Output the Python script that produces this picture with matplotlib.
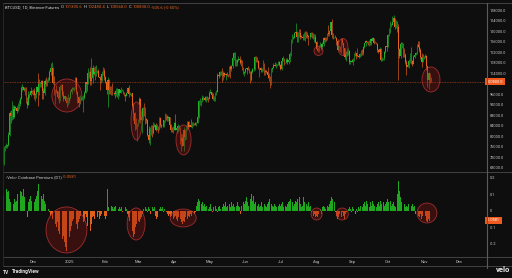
import matplotlib
matplotlib.use("Agg")
import matplotlib.pyplot as plt
import matplotlib.dates as mdates
from matplotlib.patches import Ellipse
from matplotlib.lines import Line2D
import numpy as np
import pandas as pd

plt.rcParams['font.family'] = ['Roboto', 'DejaVu Sans']

BG = '#0e0e0e'
GREEN = '#22b02a'
ORANGE = '#e8631e'
TXT = '#c9c9c9'
LINE = '#4a4a4a'

# BTCUSD daily candles, Binance futures, thousands of USD
start_date = '2024-11-06'
first_open = 69.4
close = [
    # Nov 2024 (from 6th)
    75.6, 75.9, 76.5, 76.7, 80.4, 88.7, 87.9, 90.5, 87.3, 91.1, 90.6, 89.8, 90.5,
    92.3, 94.3, 98.4, 98.9, 97.7, 98.0, 93.0, 91.9, 95.9, 95.6, 97.4, 96.4,
    # Dec 2024
    97.2, 95.8, 96.0, 98.8, 97.0, 99.9, 99.9, 101.2, 97.4, 96.6, 101.2, 100.0, 101.4,
    101.4, 104.3, 106.0, 106.1, 100.2, 97.5, 97.8, 97.2, 95.1, 94.7, 98.7, 99.4, 95.8,
    94.2, 95.2, 93.5, 92.6, 93.4,
    # Jan 2025
    94.4, 96.9, 98.1, 98.2, 98.3, 102.1, 96.9, 95.0, 92.5, 94.7, 94.5, 94.5, 94.5,
    96.5, 100.5, 99.9, 104.1, 104.4, 101.1, 102.0, 106.1, 103.6, 104.4, 104.7, 104.7,
    102.6, 102.0, 101.3, 103.7, 104.7, 102.4,
    # Feb 2025
    100.6, 97.7, 101.4, 97.8, 96.6, 96.6, 96.5, 96.5, 96.1, 97.4, 95.7, 97.9, 96.6,
    97.5, 97.6, 96.1, 95.8, 95.5, 96.6, 98.3, 96.1, 96.6, 96.3, 91.5, 88.7, 84.7,
    84.4, 84.4,
    # Mar 2025
    86.0, 94.3, 86.1, 87.2, 90.6, 89.9, 86.7, 86.2, 80.7, 78.5, 82.9, 83.7, 81.1,
    83.9, 84.3, 82.6, 84.1, 82.7, 86.8, 84.2, 84.0, 83.8, 86.1, 87.5, 87.4, 86.9,
    87.2, 84.4, 82.6, 82.3, 82.5,
    # Apr 2025
    85.2, 82.5, 83.1, 83.8, 83.5, 78.2, 79.2, 76.3, 82.6, 79.6, 83.4, 85.3, 83.7,
    84.5, 83.7, 84.0, 84.9, 84.5, 85.1, 85.1, 87.5, 93.4, 93.7, 93.9, 94.7, 94.6,
    93.7, 95.0, 94.3, 94.2,
    # May 2025
    96.5, 96.9, 95.9, 94.3, 94.7, 96.8, 97.0, 103.2, 102.9, 104.6, 104.1, 102.8, 104.1,
    103.5, 103.7, 103.5, 103.1, 106.4, 105.6, 106.8, 109.6, 111.7, 107.3, 107.8, 109.0,
    109.4, 108.9, 107.8, 105.6, 103.9, 104.6,
    # Jun 2025
    105.7, 105.8, 105.4, 104.7, 101.5, 104.3, 105.6, 105.7, 110.3, 110.2, 108.7, 105.9,
    106.1, 105.4, 105.6, 106.8, 104.6, 104.9, 104.6, 103.3, 102.2, 100.9, 105.5, 106.0,
    107.3, 106.9, 107.1, 107.3, 108.4, 107.1,
    # Jul 2025
    105.7, 108.8, 109.6, 108.0, 108.2, 109.2, 108.2, 108.9, 111.3, 115.9, 117.5, 117.4,
    119.1, 119.8, 117.7, 118.7, 119.3, 117.9, 117.9, 117.3, 117.4, 119.9, 118.6, 118.3,
    117.6, 117.9, 119.4, 118.0, 117.8, 117.8, 115.7,
    # Aug 2025
    113.3, 112.5, 114.2, 115.0, 114.1, 115.0, 117.5, 116.7, 116.5, 119.3, 118.7, 120.2,
    123.3, 118.4, 117.4, 117.5, 117.4, 116.3, 112.9, 114.3, 112.5, 116.9, 115.4, 113.5,
    110.1, 111.8, 111.3, 112.6, 108.4, 108.8, 108.2,
    # Sep 2025
    109.2, 111.2, 111.7, 110.7, 110.7, 110.2, 111.1, 112.1, 111.5, 113.9, 115.5, 116.1,
    115.9, 115.3, 115.3, 116.8, 116.4, 117.2, 115.6, 115.7, 115.2, 112.7, 112.0, 113.3,
    109.0, 109.6, 109.6, 112.1, 114.3, 114.0,
    # Oct 2025
    118.6, 120.5, 122.2, 122.4, 123.5, 124.8, 121.4, 123.3, 121.7, 113.2, 110.6, 115.2,
    115.3, 113.0, 110.8, 108.2, 106.5, 107.2, 108.6, 110.6, 108.5, 107.6, 110.1, 111.0,
    111.6, 114.6, 114.1, 112.9, 110.0, 108.3, 109.6,
    # Nov 2025
    110.1, 110.6, 106.6, 101.5, 103.9, 101.3056, 100.8,
]
high = [
    76.4, 76.9, 77.3, 76.9, 81.5, 89.6, 89.9, 93.4, 91.8, 91.8, 91.4, 91.6, 92.6,
    94.0, 94.9, 99.0, 99.8, 98.8, 98.6, 98.9, 94.8, 97.3, 96.6, 98.7, 97.5,
    97.9, 98.2, 96.3, 99.0, 104.0, 101.9, 100.5, 101.4, 101.3, 98.3, 101.9, 102.5, 101.9,
    102.6, 105.2, 107.8, 108.3, 106.5, 102.8, 98.1, 99.5, 97.4, 96.4, 99.4, 99.9, 99.9,
    97.3, 95.5, 95.2, 94.9, 96.1,
    94.9, 97.8, 98.9, 98.7, 98.8, 102.5, 102.7, 97.3, 95.3, 95.8, 95.0, 95.3, 95.8,
    97.3, 100.7, 100.8, 105.9, 104.9, 106.3, 109.6, 107.2, 106.3, 106.8, 107.0, 105.3,
    105.5, 103.1, 103.7, 104.8, 106.4, 106.0,
    102.8, 101.5, 102.5, 101.7, 99.0, 99.2, 100.1, 96.9, 97.3, 98.3, 98.5, 98.1, 98.0,
    98.8, 97.9, 97.7, 97.0, 96.0, 96.9, 98.7, 99.5, 96.9, 96.5, 96.5, 92.5, 89.3,
    87.0, 85.1,
    86.6, 95.0, 94.4, 88.9, 91.0, 92.8, 91.3, 86.8, 86.5, 83.9, 83.6, 84.4, 84.3,
    85.3, 84.9, 85.0, 84.7, 84.0, 87.4, 87.4, 84.8, 84.5, 86.1, 88.8, 88.5, 88.3,
    87.8, 87.5, 84.6, 83.5, 83.9,
    85.6, 88.5, 83.9, 84.7, 84.2, 83.7, 81.2, 80.8, 83.6, 82.7, 84.2, 85.9, 86.0,
    85.8, 86.5, 85.5, 85.4, 85.1, 85.6, 85.3, 88.5, 93.8, 94.7, 94.0, 95.7, 95.3,
    95.2, 95.5, 95.4, 95.1,
    97.4, 97.9, 96.9, 96.3, 95.2, 96.9, 97.7, 103.9, 104.3, 104.9, 104.9, 105.8, 104.9,
    104.6, 104.1, 104.5, 103.7, 106.6, 107.1, 107.3, 110.7, 111.9, 111.9, 109.5, 109.3,
    110.4, 110.7, 109.3, 108.9, 106.3, 104.9,
    105.9, 105.9, 106.8, 106.0, 105.0, 105.4, 105.9, 106.1, 110.5, 110.4, 110.3, 108.9,
    106.2, 106.2, 106.0, 108.9, 107.8, 105.6, 105.2, 106.5, 104.0, 103.1, 106.0, 106.3,
    108.0, 108.2, 107.7, 107.6, 108.5, 108.8,
    107.5, 109.7, 110.5, 109.7, 108.4, 109.7, 109.7, 109.2, 111.9, 116.8, 118.9, 118.0,
    119.5, 123.2, 119.9, 119.8, 120.9, 120.9, 118.6, 118.9, 119.6, 120.2, 120.1, 119.5,
    118.5, 118.3, 119.8, 119.8, 119.3, 118.8, 118.9,
    116.1, 114.0, 114.7, 115.7, 115.1, 115.7, 117.6, 117.7, 117.9, 119.3, 122.3, 120.3,
    123.6, 124.4, 119.2, 117.6, 118.6, 117.6, 116.8, 114.6, 114.3, 117.4, 117.0, 115.6,
    113.6, 112.4, 112.6, 113.5, 112.7, 108.9, 109.5,
    109.9, 111.8, 112.6, 111.8, 113.4, 111.2, 111.6, 112.9, 113.2, 114.3, 115.6, 116.6,
    116.3, 116.1, 116.7, 116.9, 117.3, 117.9, 117.4, 116.1, 115.8, 115.4, 113.3, 114.0,
    113.5, 110.3, 109.8, 112.4, 114.5, 114.8,
    118.7, 121.0, 123.9, 122.9, 125.7, 126.2, 125.1, 124.2, 123.8, 122.5, 113.4, 115.8,
    116.0, 115.5, 113.6, 111.8, 109.0, 107.6, 109.4, 111.7, 114.0, 109.1, 111.0, 111.8,
    111.9, 115.0, 116.4, 116.1, 113.6, 111.6, 111.2,
    110.6, 111.2, 110.8, 106.6, 104.5, 104.2, 102.4804,
]
low = [
    69.0, 74.4, 75.5, 75.7, 76.4, 80.2, 85.1, 86.2, 86.6, 87.1, 90.1, 88.9, 89.5,
    90.4, 91.6, 94.1, 97.1, 97.2, 95.8, 92.6, 90.8, 91.8, 94.7, 95.3, 96.2,
    95.7, 94.2, 93.6, 94.7, 91.5, 95.9, 98.9, 98.7, 94.2, 94.2, 95.7, 99.3, 99.2,
    100.6, 101.2, 103.3, 105.3, 100.0, 95.6, 92.2, 96.4, 94.2, 92.5, 93.4, 97.6, 95.2,
    93.5, 94.0, 93.0, 91.3, 92.0,
    92.8, 94.2, 96.0, 97.5, 97.3, 97.9, 96.1, 92.5, 91.2, 92.2, 93.8, 93.7, 89.2,
    94.3, 96.5, 97.3, 99.9, 102.3, 99.5, 99.6, 100.1, 103.3, 101.3, 102.8, 104.1,
    102.5, 97.8, 100.3, 101.2, 103.3, 101.6,
    100.3, 96.2, 91.2, 96.2, 96.2, 95.7, 95.6, 95.7, 94.7, 95.3, 94.9, 94.1, 95.2,
    96.3, 97.1, 96.0, 95.2, 93.4, 95.4, 96.4, 94.8, 95.8, 95.2, 91.2, 86.1, 82.3,
    82.8, 78.2,
    83.9, 85.0, 85.1, 81.4, 86.3, 87.8, 84.7, 85.2, 80.1, 77.5, 76.6, 80.6, 79.9,
    80.8, 83.6, 82.0, 82.5, 81.2, 82.5, 83.6, 83.2, 83.6, 83.7, 85.5, 86.3, 85.9,
    85.8, 83.6, 81.6, 81.6, 81.3,
    82.4, 82.3, 81.2, 81.6, 82.4, 77.2, 74.5, 76.2, 74.6, 78.5, 78.9, 82.3, 82.9,
    83.7, 83.6, 83.1, 83.8, 84.3, 84.4, 83.9, 85.1, 87.1, 91.9, 91.7, 92.9, 93.9,
    93.6, 92.9, 93.8, 92.9,
    94.1, 96.3, 95.7, 93.8, 93.5, 93.4, 95.8, 96.9, 102.3, 102.8, 103.3, 100.7, 101.5,
    102.6, 101.4, 103.1, 102.6, 102.9, 102.0, 104.9, 106.1, 109.2, 106.8, 106.9, 106.6,
    108.8, 107.6, 106.8, 105.4, 103.6, 103.1,
    103.9, 103.7, 105.1, 104.2, 100.4, 101.1, 103.9, 105.0, 105.3, 108.4, 108.1, 105.7,
    102.7, 104.3, 104.5, 105.0, 103.5, 103.5, 104.1, 102.3, 100.9, 98.2, 99.6, 104.6,
    105.8, 106.6, 106.1, 106.9, 107.2, 106.8,
    105.3, 105.2, 108.5, 107.3, 107.8, 107.8, 107.5, 107.5, 108.4, 110.6, 115.3, 116.9,
    117.3, 118.9, 115.7, 115.9, 117.8, 116.8, 117.2, 116.5, 116.5, 116.1, 117.3, 117.5,
    114.8, 117.1, 117.9, 117.4, 116.9, 115.8, 115.5,
    112.7, 112.0, 112.2, 114.0, 112.7, 113.3, 114.3, 115.9, 116.3, 116.5, 118.1, 118.2,
    118.9, 117.2, 116.8, 117.2, 117.3, 114.7, 112.7, 112.4, 112.0, 111.7, 114.7, 110.8,
    109.3, 108.8, 110.4, 110.9, 107.4, 107.5, 108.1,
    107.3, 108.6, 110.7, 109.3, 110.0, 109.9, 110.1, 110.6, 110.9, 110.9, 113.4, 114.3,
    115.3, 114.8, 114.4, 114.8, 114.7, 116.3, 115.2, 115.4, 115.1, 111.9, 111.5, 111.1,
    108.6, 108.6, 109.1, 109.2, 111.6, 112.6,
    113.9, 118.2, 119.2, 121.6, 122.2, 123.1, 120.6, 121.1, 119.6, 101.5, 109.6, 109.9,
    113.5, 110.0, 110.2, 107.5, 103.5, 106.3, 106.1, 107.9, 107.4, 106.7, 107.4, 109.6,
    110.9, 111.3, 113.8, 112.2, 109.4, 106.3, 108.7,
    109.4, 109.6, 105.3, 98.9, 98.0, 100.3, 100.568,
]

# Velo Coinbase premium, daily
premium = [
    # Nov 2024
    0.09, 0.12, 0.13, 0.11, 0.12, 0.07, 0.05, 0.06, 0.04, 0.07, 0.05, 0.06, 0.10,
    0.13, 0.12, 0.11, 0.09, 0.13, 0.08, -0.03, -0.04, 0.05, 0.07, 0.09, 0.06,
    # Dec 2024
    0.08, 0.05, 0.07, 0.09, 0.12, 0.16, 0.11, 0.09, 0.07, 0.10, 0.06, 0.04, 0.02, 0.01,
    -0.01, -0.03, -0.02, -0.05, -0.04, -0.08, -0.10, -0.07, -0.12, -0.14, -0.11, -0.17,
    -0.15, -0.19, -0.22, -0.24, -0.20,
    # Jan 2025
    -0.16, -0.12, -0.09, -0.06, -0.05, -0.03, -0.08, -0.11, -0.07, -0.05, -0.03, -0.04,
    -0.07, -0.06, -0.02, -0.04, -0.09, -0.15, -0.12, -0.08, -0.04, -0.03, -0.05, -0.02,
    -0.04, -0.01, -0.05, -0.03, -0.02, -0.04, -0.03,
    # Feb 2025
    -0.05, -0.03, 0.13, 0.02, 0.01, 0.03, 0.02, 0.01, 0.02, 0.03, -0.01, 0.01, 0.02,
    0.01, 0.02, -0.01, 0.01, 0.02, 0.01, -0.02, -0.04, -0.06, -0.08, -0.12, -0.16,
    -0.14, -0.10, -0.08,
    # Mar 2025
    -0.06, -0.07, -0.05, -0.04, -0.02, 0.01, 0.02, 0.01, -0.01, 0.02, 0.01, -0.02, 0.02,
    0.01, 0.02, -0.03, -0.05, -0.04, 0.01, 0.02, 0.01, 0.02, -0.01, 0.01, -0.01, -0.02,
    -0.03, -0.02, -0.04, -0.03, -0.05,
    # Apr 2025
    -0.04, -0.03, -0.05, -0.06, -0.04, -0.05, -0.07, -0.08, -0.06, -0.07, -0.04, -0.05,
    -0.03, -0.04, -0.02, -0.03, -0.01, -0.02, -0.01, 0.03, 0.05, 0.07, 0.06, 0.04,
    0.05, 0.03, 0.04, 0.02, 0.03, 0.01,
    # May 2025
    0.02, 0.04, 0.01, -0.01, 0.02, 0.03, 0.01, -0.01, 0.02, 0.03, 0.01, 0.02, 0.04,
    0.03, 0.05, 0.02, 0.03, 0.04, 0.02, 0.05, 0.03, 0.04, 0.02, 0.03, 0.05, 0.03,
    0.02, -0.02, 0.03, 0.05, 0.04,
    # Jun 2025
    0.06, 0.08, 0.05, 0.03, 0.07, 0.10, 0.06, 0.09, 0.04, 0.05, 0.03, 0.04, 0.02,
    0.03, 0.05, 0.02, 0.04, 0.03, 0.02, 0.04, 0.05, 0.07, 0.04, 0.03, 0.02, 0.04,
    0.03, 0.02, 0.03, 0.04,
    # Jul 2025
    0.03, 0.04, 0.05, 0.02, 0.03, 0.02, 0.04, 0.05, 0.06, 0.07, 0.05, 0.03, 0.04,
    0.06, 0.05, 0.07, 0.08, 0.04, 0.02, 0.03, 0.08, 0.05, 0.04, 0.03, 0.05, 0.02,
    0.03, -0.01, -0.03, -0.02, -0.04,
    # Aug 2025
    -0.03, -0.04, -0.02, 0.01, -0.02, 0.02, 0.03, 0.02, 0.01, 0.03, 0.02, 0.04, 0.06,
    0.08, 0.07, 0.05, -0.01, -0.03, -0.05, -0.04, -0.02, -0.04, -0.01, -0.03, -0.05,
    -0.02, -0.01, 0.01, 0.02, 0.01, -0.01,
    # Sep 2025
    0.02, 0.01, -0.02, 0.01, -0.01, 0.02, 0.01, 0.03, 0.02, 0.04, 0.05, 0.03, 0.06,
    0.04, 0.02, 0.05, 0.03, 0.06, 0.04, 0.03, 0.02, 0.04, 0.05, 0.03, 0.06, 0.04,
    0.05, 0.03, 0.04, 0.05,
    # Oct 2025
    0.07, 0.05, 0.06, 0.03, 0.04, 0.05, 0.03, 0.02, 0.10, 0.18, 0.12, 0.08, 0.05,
    0.03, 0.04, 0.02, 0.03, 0.02, 0.04, 0.06, 0.03, 0.04, 0.02, 0.03, -0.02, -0.01,
    -0.03, -0.04, -0.02, -0.05, -0.03,
    # Nov 2025
    -0.04, -0.03, -0.06, -0.07, -0.05, -0.06, -0.0581,
]

# highlighted zones: (center date, center value, width days, height)
price_marks = [
    ('2024-12-30', 95530, 25.7, 12530),
    ('2025-02-27 16:00', 85840, 9.4, 14430),
    ('2025-04-09', 78630, 12.9, 11390),
    ('2025-08-02 14:00', 112430, 7.7, 3420),
    ('2025-08-23 14:00', 113950, 8.6, 6460),
    ('2025-11-07', 101600, 15.4, 9490),
]
premium_marks = [
    ('2024-12-29 16:00', -0.116, 35.0, 0.277),
    ('2025-02-27 08:00', -0.080, 15.4, 0.193),
    ('2025-04-08 16:00', -0.044, 22.3, 0.108),
    ('2025-08-01', -0.020, 9.4, 0.072),
    ('2025-08-23', -0.020, 10.3, 0.072),
    ('2025-11-03 14:00', -0.014, 17.0, 0.120),
]

price_ticks = [68000, 72000, 76000, 80000, 84000, 88000, 92000, 96000,
               104000, 108000, 112000, 116000, 120000, 124000, 128000]
premium_ticks = [0.2, 0.1, 0.0, -0.1, -0.2]
premium_tick_labels = ['0.2', '0.1', '0', '-0.1', '-0.2']
month_ticks = ['2024-12-01', '2025-01-01', '2025-02-01', '2025-03-01', '2025-04-01',
               '2025-05-01', '2025-06-01', '2025-07-01', '2025-08-01', '2025-09-01',
               '2025-10-01', '2025-11-01', '2025-12-01']
month_labels = ['Dec', '2025', 'Feb', 'Mar', 'Apr', 'May', 'Jun', 'Jul', 'Aug',
                'Sep', 'Oct', 'Nov', 'Dec']

# build OHLC
c = np.array(close) * 1000
o = np.concatenate([[first_open * 1000], c[:-1]])
h = np.maximum(np.array(high) * 1000, np.maximum(o, c))
l = np.minimum(np.array(low) * 1000, np.minimum(o, c))
dates = pd.date_range(start_date, periods=len(c), freq='D')
xd = mdates.date2num(dates.to_pydatetime())
up = c >= o
cols = np.where(up, GREEN, ORANGE)
prem = np.array(premium)
pcols = np.where(prem >= 0, '#1fa81f', '#e2601a')

W, H = 512, 278
fig = plt.figure(figsize=(W / 100, H / 100), dpi=100, facecolor=BG)
ax1 = fig.add_axes([3 / W, 1 - 172 / H, 484 / W, 169 / H], facecolor=BG)
ax2 = fig.add_axes([3 / W, 1 - 257 / H, 484 / W, 85 / H], facecolor=BG, sharex=ax1)

# candles
ax1.vlines(xd, l, h, colors=cols, linewidth=0.45, zorder=2)
ax1.bar(xd, np.maximum(np.abs(c - o), 60), bottom=np.minimum(o, c), width=0.62,
        color=cols, linewidth=0, zorder=3)
ax1.axhline(c[-1], color='#b5471c', linewidth=0.5, linestyle=(0, (1.2, 1.2)), zorder=1)

# premium histogram
ax2.bar(xd, prem, width=0.8, color=pcols, linewidth=0, zorder=2)

def mark(ax, spec):
    for d, v, w, hh in spec:
        ax.add_patch(Ellipse((mdates.date2num(pd.Timestamp(d)), v), w, hh,
                             facecolor=(0.55, 0.08, 0.08, 0.35),
                             edgecolor=(0.78, 0.22, 0.22, 0.75),
                             linewidth=0.6, zorder=4))

mark(ax1, price_marks)
mark(ax2, premium_marks)

x0 = mdates.date2num(pd.Timestamp('2024-12-01')) - 25.7
x1 = mdates.date2num(pd.Timestamp('2025-12-01')) + 24.0
ax1.set_xlim(x0, x1)
ax1.set_ylim(66470, 130660)
ax2.set_ylim(-0.279, 0.233)

for ax in (ax1, ax2):
    for s in ax.spines.values():
        s.set_visible(False)
    ax.yaxis.tick_right()
    ax.tick_params(axis='y', length=0, pad=1.8, labelsize=2.8, colors=TXT)

ax1.set_yticks(price_ticks)
ax1.set_yticklabels([f'{v:.1f}' for v in price_ticks])
ax1.tick_params(axis='x', length=0, labelbottom=False)
ax2.set_yticks(premium_ticks)
ax2.set_yticklabels(premium_tick_labels)
ax2.set_xticks([mdates.date2num(pd.Timestamp(d)) for d in month_ticks])
ax2.set_xticklabels(month_labels)
ax2.tick_params(axis='x', length=0, pad=2.2, labelsize=3.0, colors=TXT)

# current value tags on the right scale
ax1.text(1.0, c[-1], f'{c[-1]:.1f}', transform=ax1.get_yaxis_transform(),
         ha='left', va='center', fontsize=2.8, color='white', zorder=6, clip_on=False,
         bbox=dict(boxstyle='square,pad=0.45', facecolor='#f05a1e', edgecolor='none'))
ax2.text(1.0, prem[-1], f'{prem[-1]:.4f}', transform=ax2.get_yaxis_transform(),
         ha='left', va='center', fontsize=2.8, color='white', zorder=6, clip_on=False,
         bbox=dict(boxstyle='square,pad=0.45', facecolor='#f05a1e', edgecolor='none'))

# frame lines
for y in (3, 172, 257, 266):
    fig.add_artist(Line2D([3 / W, 1], [1 - y / H] * 2, color=LINE, linewidth=0.6))
fig.add_artist(Line2D([3 / W] * 2, [1 - 3 / H, 1 - 266 / H], color='#2a2a2a', linewidth=0.6))
fig.add_artist(Line2D([487 / W] * 2, [1 - 3 / H, 1 - 268 / H], color='#5a5a5a', linewidth=0.8))

# header and legend texts, written piece by piece
renderer = fig.canvas.get_renderer()

def text_run(x, y, parts, size):
    x = x / W
    for s, col in parts:
        t = fig.text(x, 1 - y / H, s, color=col, fontsize=size, va='center', ha='left')
        bb = t.get_window_extent(renderer=renderer)
        x = (bb.x1 + 1.2) / W

text_run(5, 7.5, [('BTCUSD, 1D, Binance-Futures', '#d8d8d8'),
                  ('O', '#d8d8d8'), (f'{o[-1]:.1f}', ORANGE),
                  ('H', '#d8d8d8'), (f'{h[-1]:.1f}', ORANGE),
                  ('L', '#d8d8d8'), (f'{l[-1]:.1f}', ORANGE),
                  ('C', '#d8d8d8'), (f'{c[-1]:.1f}', ORANGE),
                  (f'{c[-1] - o[-1]:.1f} ({(c[-1] - o[-1]) / o[-1] * 100:.2f}%)', ORANGE)], 3.0)
text_run(6, 177.5, [('‹Velo› Coinbase Premium (D1)', '#cfcfcf'),
                    (f'{prem[-1]:.4f}', ORANGE)], 3.0)

fig.text(3 / W, 1 - 272 / H, 'TV', color='#e0e0e0', fontsize=3.6, fontweight='bold',
         va='center', ha='left')
fig.text(12 / W, 1 - 272 / H, 'TradingView', color='#e0e0e0', fontsize=3.6,
         fontweight='bold', va='center', ha='left')
fig.text(496 / W, 1 - 270 / H, 'velo', color='#e8e8e8', fontsize=5.5, fontweight='bold',
         va='center', ha='left')

fig.savefig('out.png', dpi=100, facecolor=BG)
